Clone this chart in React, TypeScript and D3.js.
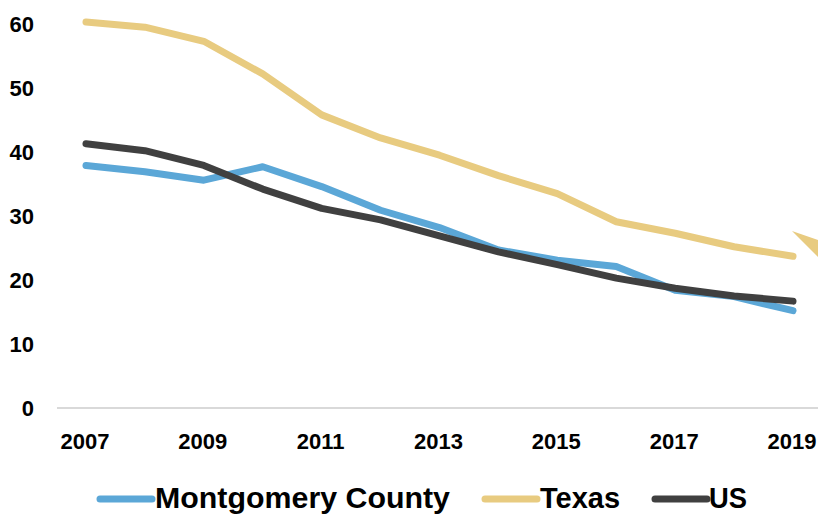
import React from 'react';
import * as d3 from 'd3';

const years = [2007, 2008, 2009, 2010, 2011, 2012, 2013, 2014, 2015, 2016, 2017, 2018, 2019];
const montgomery = [37.9, 36.9, 35.6, 37.7, 34.6, 30.9, 28.2, 24.7, 23.1, 22.1, 18.4, 17.4, 15.2];
const texas = [60.3, 59.5, 57.3, 52.2, 45.8, 42.2, 39.5, 36.3, 33.5, 29.1, 27.3, 25.2, 23.7];
const us = [41.3, 40.2, 37.9, 34.2, 31.2, 29.4, 26.9, 24.4, 22.4, 20.3, 18.7, 17.5, 16.7];
const yTicks = [0, 10, 20, 30, 40, 50, 60];
const xTicks = [2007, 2009, 2011, 2013, 2015, 2017, 2019];

const series = [
  { name: 'Montgomery County', values: montgomery, color: '#5ba7d7', legendX: 100, textX: 155, textLen: 295 },
  { name: 'Texas', values: texas, color: '#e8cb80', legendX: 485, textX: 540, textLen: 80 },
  { name: 'US', values: us, color: '#404040', legendX: 655, textX: 709, textLen: 38 },
];

const W = 818;
const H = 515;
const font = '"Liberation Sans", Arial, sans-serif';

export default function App() {
  const x = d3.scaleLinear().domain([2007, 2019]).range([86, 793]);
  const y = d3.scaleLinear().domain([0, 60]).range([408, 24]);

  const line = d3.line<number>()
    .x((_, i) => x(years[i]))
    .y(d => y(d))
    .curve(d3.curveLinear);

  return (
    <svg width={W} height={H} style={{ position: 'absolute', left: 0, top: 0, background: '#fff' }}>
      {/* baseline */}
      <line x1={57} x2={W} y1={y(0)} y2={y(0)} stroke="#d9d9d9" strokeWidth={2} />

      {/* y axis labels */}
      {yTicks.map(t => (
        <text key={t} x={34} y={y(t)} dy="0.36em" textAnchor="end"
          fontFamily={font} fontWeight="bold" fontSize={22} fill="#000">{t}</text>
      ))}

      {/* x axis labels */}
      {xTicks.map(t => (
        <text key={t} x={x(t) - 1} y={449} textAnchor="middle"
          fontFamily={font} fontWeight="bold" fontSize={22} fill="#000">{t}</text>
      ))}

      {/* lines */}
      {series.map(s => (
        <path key={s.name} d={line(s.values) || ''} fill="none" stroke={s.color}
          strokeWidth={7} strokeLinecap="round" strokeLinejoin="round" />
      ))}

      {/* cropped callout on the right */}
      <polygon points="792,231 818,240 818,257" fill="#e8cb80" />

      {/* legend */}
      {series.map(s => (
        <g key={s.name + '-legend'}>
          <line x1={s.legendX} x2={s.legendX + 52} y1={499} y2={499} stroke={s.color}
            strokeWidth={7} strokeLinecap="round" />
          <text x={s.textX} y={508} fontFamily={font} fontWeight="bold" fontSize={29}
            textLength={s.textLen} lengthAdjust="spacingAndGlyphs" fill="#000">{s.name}</text>
        </g>
      ))}
    </svg>
  );
}
